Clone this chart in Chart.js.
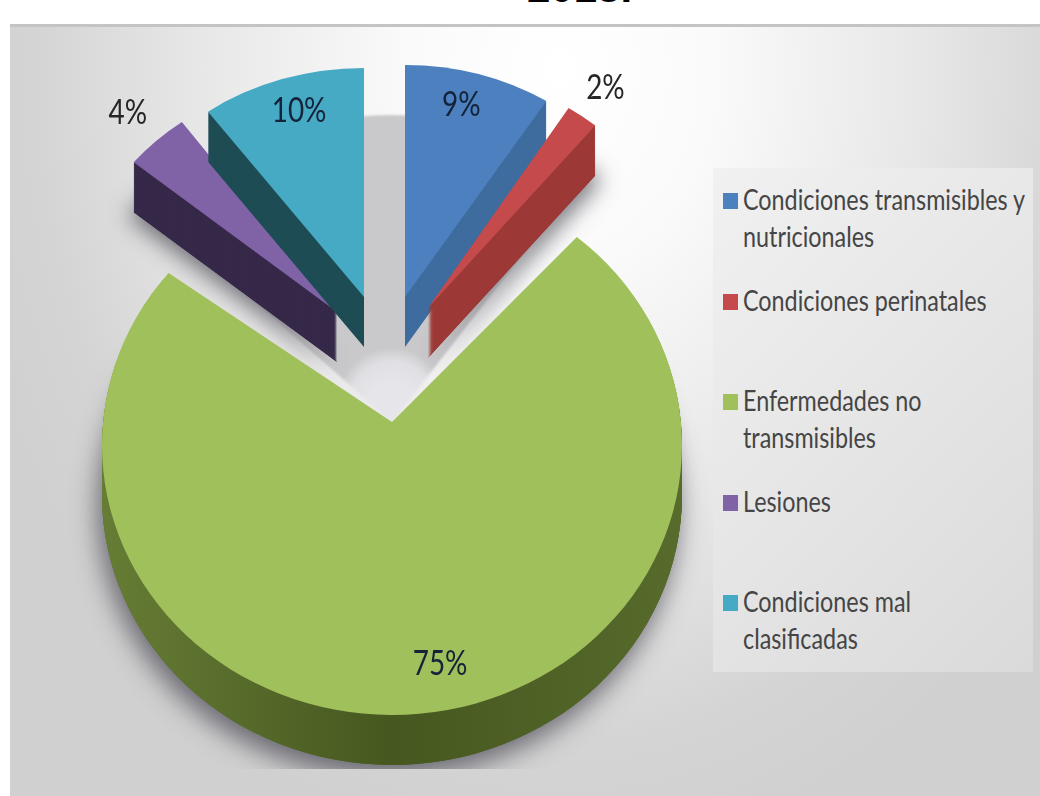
<!DOCTYPE html>
<html>
<head>
<meta charset="utf-8">
<script src="https://cdn.jsdelivr.net/npm/chart.js@4"></script>
<style>
html, body { margin:0; padding:0; background:#fff; overflow:hidden; }
#wrap { position:relative; width:1040px; height:796px; overflow:hidden; }
#titulo { position:absolute; left:527px; top:-36px; font:bold 42px "Liberation Sans"; color:#000; }
#panel { position:absolute; left:10px; top:24px; width:1030px; height:772px; box-sizing:border-box; border-top:3px solid #c4c4c4;
	background:radial-gradient(ellipse 620px 800px at 550px 40px, #ffffff 0%, #fafafa 25%, #e6e6e6 60%, #d4d4d4 85%, #d0d0d0 100%); }
#grafica { position:absolute; left:0; top:0; }
#leyenda { position:absolute; left:713px; top:168px; width:320px; height:504px; box-sizing:border-box; padding:14px 0 0 10px;
	background:linear-gradient(135deg, #f1f1f1, #dadada); }
.fila { height:100.5px; position:relative; padding-left:20px; color:#454545; }
.fila span { display:inline-block; position:relative; top:-2px; font:29px/37px Lato; white-space:pre; transform:scaleX(0.805); transform-origin:left top; }
.fila i { position:absolute; left:0; top:11px; width:15px; height:16px; }
</style>
</head>
<body>
<div id="wrap">
	<div id="titulo">2013.</div>
	<div id="panel"></div>
	<div id="leyenda"></div>
	<canvas id="grafica" width="1040" height="796"></canvas>
</div>
<script>
var categorias = ['Condiciones transmisibles y\nnutricionales', 'Condiciones perinatales', 'Enfermedades no\ntransmisibles', 'Lesiones', 'Condiciones mal\nclasificadas'];
var valores = [9, 2, 75, 4, 10];
var colores = ['#4c80be', '#c44a4c', '#a0c05c', '#8062a6', '#46aac5'];
var coloresLado = ['#3f6c9e', '#9c3936', '#4d5f26', '#362848', '#1e4c54'];

// explosion of each slice and perspective squash, everything else comes from the arc
var despX = [13, 36, 0, -55, -28];
var despY = [-138, -127, 10, -123, -138];
var escX = [0.91, 0.905, 1, 0.91, 0.915];
var escY = [0.80, 0.817, 0.931, 0.81, 0.79];
var apice = [0, 0, 23, 0, 0];
var profundidad = 50;
var ordenDibujo = [3, 4, 0, 1, 2];

// soft shadow per slice: blur and x offset, 0 blur means none
var sombraBlur = [0, 22, 26, 22, 0];
var sombraX = [0, 6, -4, -6, 0];
var sombraY = [0, 4, 12, 4, 0];

// where the % text sits: fraction of the radius along the slice, plus small nudge
var etiquetaRadio = [0.86, 1.15, 0.81, 1.18, 0.84];
var etiquetaDx = [-7, 0, 26, 4, 4];
var etiquetaDy = [0, 0, 1, 3, -3];

function trozo(ctx, arc, i) {
	ctx.beginPath();
	ctx.moveTo(arc.x, arc.y - apice[i] / escY[i]);
	ctx.arc(arc.x, arc.y, arc.outerRadius, arc.startAngle, arc.endAngle);
	ctx.closePath();
}

function colocar(ctx, arc, i, bajar) {
	ctx.translate(arc.x + despX[i], arc.y + despY[i] + bajar);
	ctx.scale(escX[i], escY[i]);
	ctx.translate(-arc.x, -arc.y);
}

function sombraSuelo(ctx, verde) {
	// gray floor seen in the notch left by the big slice
	var cy = verde.y + despY[2] - apice[2];
	var g = ctx.createRadialGradient(verde.x, cy - 20, 20, verde.x, cy - 20, 55);
	g.addColorStop(0, '#e6e6ea');
	g.addColorStop(0.6, '#e0e0e4');
	g.addColorStop(1, '#c9c9cb');
	ctx.save();
	ctx.filter = 'blur(1px)';
	ctx.fillStyle = g;
	ctx.beginPath();
	ctx.moveTo(verde.x, cy);
	ctx.ellipse(verde.x, cy, verde.outerRadius, verde.outerRadius * 1.059, 0, verde.endAngle, verde.startAngle);
	ctx.closePath();
	ctx.fill();
	ctx.restore();
}

var pastel3d = {
	id: 'pastel3d',
	beforeDatasetDraw: function(chart) {
		var ctx = chart.ctx;
		var arcos = chart.getDatasetMeta(0).data;
		var c = arcos[2];

		sombraSuelo(ctx, c);

		ordenDibujo.forEach(function(i) {
			var arc = arcos[i];
			// soft shadow under the slice, cut flat at the bottom like the picture
			if (sombraBlur[i] > 0) {
				ctx.save();
				ctx.beginPath();
				ctx.rect(0, 0, 1040, 769);
				ctx.clip();
				ctx.shadowColor = 'rgba(70,70,80,0.75)';
				ctx.shadowBlur = sombraBlur[i];
				ctx.shadowOffsetY = sombraY[i];
				ctx.shadowOffsetX = sombraX[i];
				colocar(ctx, arc, i, profundidad);
				trozo(ctx, arc, i);
				ctx.fillStyle = coloresLado[i];
				ctx.fill();
				ctx.restore();
			}
			// side of the slice
			ctx.save();
			if (i == 2) {
				var lado = ctx.createLinearGradient(c.x - c.outerRadius, 0, c.x + c.outerRadius, 0);
				lado.addColorStop(0, '#667d35');
				lado.addColorStop(0.5, '#46571f');
				lado.addColorStop(1, '#576b2c');
				ctx.fillStyle = lado;
			} else {
				ctx.fillStyle = coloresLado[i];
			}
			for (var k = profundidad; k > 0; k--) {
				ctx.save();
				colocar(ctx, arc, i, k);
				trozo(ctx, arc, i);
				ctx.fill();
				ctx.restore();
			}
			ctx.restore();
			// top face
			ctx.save();
			colocar(ctx, arc, i, 0);
			trozo(ctx, arc, i);
			ctx.fillStyle = colores[i];
			ctx.fill();
			ctx.restore();
		});
		return false;
	},
	afterDatasetsDraw: function(chart) {
		var ctx = chart.ctx;
		chart.getDatasetMeta(0).data.forEach(function(arc, i) {
			var mid = (arc.startAngle + arc.endAngle) / 2;
			var r = arc.outerRadius * etiquetaRadio[i];
			var x = arc.x + despX[i] + Math.cos(mid) * r * escX[i] + etiquetaDx[i];
			var y = arc.y + despY[i] + Math.sin(mid) * r * escY[i] + etiquetaDy[i];
			ctx.save();
			ctx.translate(x, y);
			ctx.scale(0.82, 1);
			ctx.font = '34px Lato';
			ctx.textAlign = 'center';
			ctx.textBaseline = 'middle';
			ctx.fillStyle = (i == 1 || i == 3) ? '#262626' : '#14233a';
			ctx.fillText(valores[i] + '%', 0, 0);
			ctx.restore();
		});
	}
};

var grafica = new Chart(document.getElementById('grafica'), {
	type: 'pie',
	data: {
		labels: categorias,
		datasets: [{ data: valores, backgroundColor: colores, borderWidth: 0 }]
	},
	options: {
		responsive: false,
		animation: false,
		layout: { padding: { left: 102, right: 358, top: 145, bottom: 71 } },
		plugins: { legend: { display: false }, tooltip: { enabled: false } }
	},
	plugins: [pastel3d]
});

var caja = document.getElementById('leyenda');
grafica.data.labels.forEach(function(txt, i) {
	var fila = document.createElement('div');
	fila.className = 'fila';
	var s = document.createElement('span');
	s.textContent = txt;
	fila.appendChild(s);
	var m = document.createElement('i');
	m.style.background = colores[i];
	fila.appendChild(m);
	caja.appendChild(fila);
});
</script>
</body>
</html>
